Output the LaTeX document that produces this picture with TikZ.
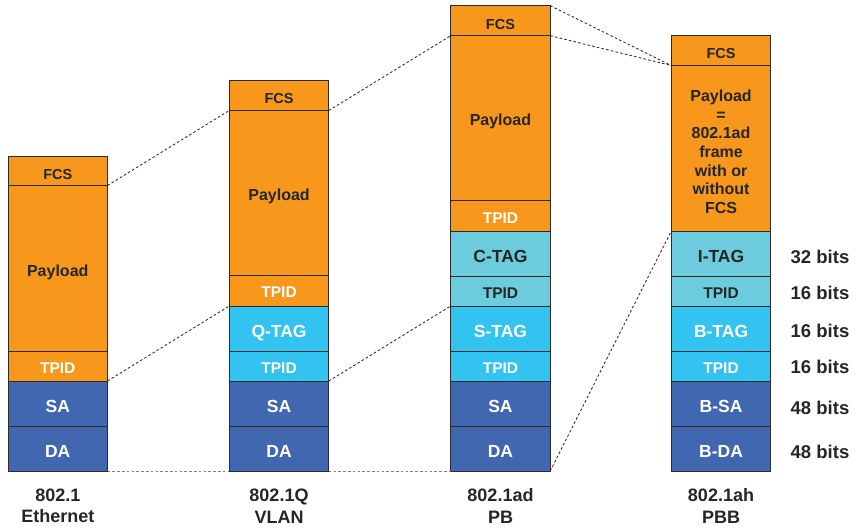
\documentclass[tikz,border=0pt]{standalone}
\usepackage{fontspec}
\setmainfont{Liberation Sans}
\definecolor{orng}{HTML}{F7981D}
\definecolor{dblue}{HTML}{4167B1}
\definecolor{bcyan}{HTML}{33C3F0}
\definecolor{teal2}{HTML}{6CCBDC}
\definecolor{dtext}{HTML}{262626}
\definecolor{segline}{HTML}{2B2B2B}
\tikzset{
  seg/.style={draw=segline, line width=0.9pt, inner sep=0pt, outer sep=0pt,
    minimum width=99.5pt, anchor=north west, align=center},
  fcsf/.style={font=\bfseries\fontsize{14.5}{17}\selectfont, text height=16.8pt, text depth=0pt},
  payf/.style={font=\bfseries\fontsize{16}{18.7}\selectfont, text height=15.5pt, text depth=0pt},
  tpidf/.style={font=\bfseries\fontsize{15.5}{18}\selectfont, text height=14.5pt, text depth=0pt},
  tagf/.style={font=\bfseries\fontsize{17.5}{20}\selectfont, text height=17.3pt, text depth=0pt},
  multf/.style={font=\bfseries\fontsize{16}{18.7}\selectfont, text=dtext, align=center, inner sep=0pt},
  org/.style={seg, fill=orng},
  cyn/.style={seg, fill=bcyan, text=white},
  tea/.style={seg, fill=teal2, text=dtext},
  blu/.style={seg, fill=dblue, text=white},
  lbl/.style={font=\bfseries\fontsize{18}{21.5}\selectfont, text=dtext, align=center},
  bits/.style={font=\bfseries\fontsize{18.5}{21}\selectfont, text=dtext},
  link/.style={draw=segline, line width=0.85pt, dash pattern=on 2.6pt off 2.2pt},
  blink/.style={draw=gray, line width=0.9pt, dash pattern=on 2.6pt off 2.2pt}
}
\begin{document}
\begin{tikzpicture}[x=1pt,y=-1pt]
\useasboundingbox (0,0) rectangle (856,527);
% Column 1: 802.1 Ethernet
\node[org, fcsf, text=dtext, minimum height=29.5pt] (c1fcs) at (8,156) {FCS};
\node[org, payf, text=dtext, minimum height=165.5pt] (c1pay) at (8,185.5) {Payload};
\node[org, tpidf, text=white, minimum height=30pt] (c1tpid) at (8,351) {TPID};
\node[blu, tagf, minimum height=45pt] (c1sa) at (8,381) {SA};
\node[blu, tagf, minimum height=45pt] (c1da) at (8,426) {DA};
% Column 2: 802.1Q VLAN
\node[org, fcsf, text=dtext, minimum height=30pt] (c2fcs) at (229.3,80.5) {FCS};
\node[org, payf, text=dtext, minimum height=164.5pt] (c2pay) at (229.3,110.5) {Payload};
\node[org, tpidf, text=white, minimum height=31pt] (c2tpida) at (229.3,275) {TPID};
\node[cyn, tagf, minimum height=45pt] (c2qtag) at (229.3,306) {Q-TAG};
\node[cyn, tpidf, minimum height=30pt] (c2tpidb) at (229.3,351) {TPID};
\node[blu, tagf, minimum height=45pt] (c2sa) at (229.3,381) {SA};
\node[blu, tagf, minimum height=45pt] (c2da) at (229.3,426) {DA};
% Column 3: 802.1ad PB
\node[org, fcsf, text=dtext, minimum height=30pt] (c3fcs) at (450.7,5.7) {FCS};
\node[org, payf, text=dtext, minimum height=165pt] (c3pay) at (450.7,35.7) {Payload};
\node[org, tpidf, text=white, minimum height=30.3pt] (c3tpida) at (450.7,200.7) {TPID};
\node[tea, tagf, minimum height=45pt] (c3ctag) at (450.7,231) {C-TAG};
\node[tea, tpidf, minimum height=30pt] (c3tpidb) at (450.7,276) {TPID};
\node[cyn, tagf, minimum height=45pt] (c3stag) at (450.7,306) {S-TAG};
\node[cyn, tpidf, minimum height=30pt] (c3tpidc) at (450.7,351) {TPID};
\node[blu, tagf, minimum height=45pt] (c3sa) at (450.7,381) {SA};
\node[blu, tagf, minimum height=45pt] (c3da) at (450.7,426) {DA};
% Column 4: 802.1ah PBB
\node[org, fcsf, text=dtext, minimum height=30pt] (c4fcs) at (671.3,35.5) {FCS};
\node[org, minimum height=165.5pt] (c4pay) at (671.3,65.5) {};
\node[multf, yshift=-3.5pt] (c4paytxt) at (c4pay.center) {Payload\\=\\802.1ad\\frame\\with or\\without\\FCS};
\node[tea, tagf, minimum height=45pt] (c4itag) at (671.3,231) {I-TAG};
\node[tea, tpidf, minimum height=30pt] (c4tpida) at (671.3,276) {TPID};
\node[cyn, tagf, minimum height=45pt] (c4btag) at (671.3,306) {B-TAG};
\node[cyn, tpidf, minimum height=30pt] (c4tpidb) at (671.3,351) {TPID};
\node[blu, tagf, minimum height=45pt] (c4bsa) at (671.3,381) {B-SA};
\node[blu, tagf, minimum height=45pt] (c4bda) at (671.3,426) {B-DA};
% bit widths
\node[bits] (b1) at (820,257) {32 bits};
\node[bits] (b2) at (820,292.7) {16 bits};
\node[bits] (b3) at (820,330.5) {16 bits};
\node[bits] (b4) at (820,366.5) {16 bits};
\node[bits] (b5) at (820,408) {48 bits};
\node[bits] (b6) at (820,451.5) {48 bits};
% bottom labels
\node[lbl] (l1) at (57.8,506) {802.1\\Ethernet};
\node[lbl] (l2) at (279,506) {802.1Q\\VLAN};
\node[lbl] (l3) at (500.5,506) {802.1ad\\PB};
\node[lbl] (l4) at (721,506) {802.1ah\\PBB};
% connectors
\draw[link] (c1fcs.south east) -- (c2pay.north west);
\draw[link] (c2fcs.south east) -- (c3pay.north west);
\draw[link] (c3fcs.north east) -- (c4pay.north west);
\draw[link] (c3fcs.south east) -- (c4pay.north west);
\draw[link] (c1tpid.south east) -- (c2qtag.north west);
\draw[link] (c2tpidb.south east) -- (c3stag.north west);
\draw[link] (c3da.south east) -- (c4itag.north west);
\draw[blink] (c1da.south east) -- (c2da.south west);
\draw[blink] (c2da.south east) -- (c3da.south west);
\end{tikzpicture}
\end{document}
